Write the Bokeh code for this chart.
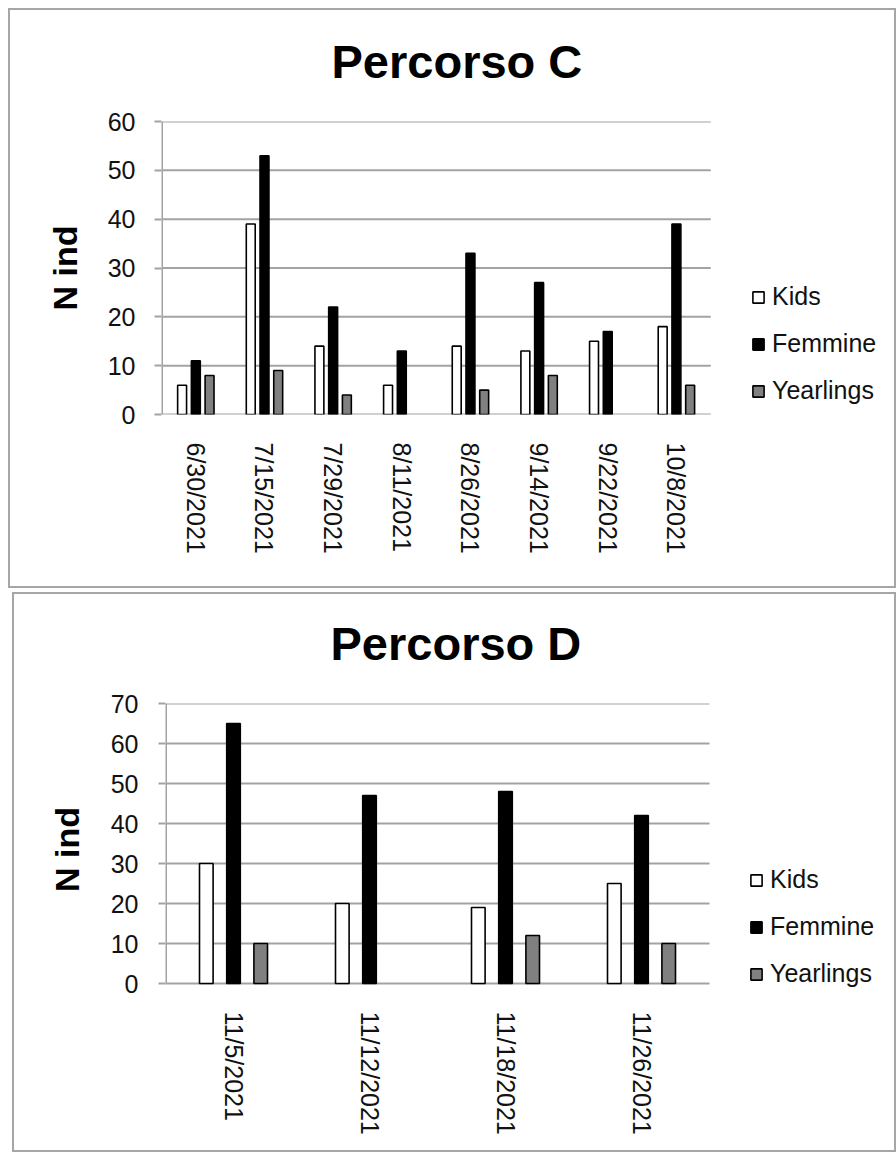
from bokeh.plotting import figure
from bokeh.models import Range1d, ColumnDataSource, Legend, LegendItem, Title
from bokeh.transform import dodge
from bokeh.layouts import column
from bokeh.embed import file_html
from bokeh.resources import INLINE

# ---------------- data ----------------
series_names = ["Kids", "Femmine", "Yearlings"]

dates_c = ["6/30/2021", "7/15/2021", "7/29/2021", "8/11/2021",
           "8/26/2021", "9/14/2021", "9/22/2021", "10/8/2021"]
kids_c = [6, 39, 14, 6, 14, 13, 15, 18]
femmine_c = [11, 53, 22, 13, 33, 27, 17, 39]
yearlings_c = [8, 9, 4, 0, 5, 8, 0, 6]

dates_d = ["11/5/2021", "11/12/2021", "11/18/2021", "11/26/2021"]
kids_d = [30, 20, 19, 25]
femmine_d = [65, 47, 48, 42]
yearlings_d = [10, 0, 12, 10]

FONT = "Liberation Sans"
GRID = "#a3a3a3"
fills = ["#ffffff", "#000000", "#808080"]


def nz(vals):
    return [v if v else float("nan") for v in vals]


def make_chart(title, dates, kids, fem, year, ymax, width, height,
               fl, fr, ft, fb, x_end, y_start, offs, bw, legend_xy, title_offset,
               tick_standoff, label_standoff, xlabel_standoff, styles):
    n = len(dates)
    p = figure(x_range=Range1d(0, x_end), y_range=Range1d(y_start, ymax),
               width=width, height=height, title=None,
               output_backend="svg", toolbar_location=None,
               min_border_left=fl, min_border_right=fr,
               min_border_top=ft, min_border_bottom=fb)
    p.styles = styles
    p.outline_line_color = None
    p.background_fill_color = "white"
    p.border_fill_color = "white"

    # white (invisible) spacer next to the plot area, then the real title above it
    p.add_layout(Title(text="x", text_font_size="12px", text_color="#ffffff",
                       standoff=18), "above")
    p.add_layout(Title(text=title, align="left", offset=title_offset, standoff=0,
                       text_font=FONT, text_font_style="bold",
                       text_font_size="47px", text_color="#000000"), "above")

    # horizontal gridlines and the value axis line, spanning the category area
    ticks = list(range(0, ymax + 1, 10))
    p.segment(x0=[0] * len(ticks), x1=[n] * len(ticks), y0=ticks, y1=ticks,
              line_color=GRID, line_width=2)
    p.segment(x0=[0], x1=[0], y0=[0], y1=[ymax], line_color=GRID, line_width=3)

    idx = list(range(n))
    src = ColumnDataSource(dict(x=idx, kids=nz(kids), fem=nz(fem), year=nz(year)))
    rs = []
    for col, off, fc in zip(["kids", "fem", "year"], offs, fills):
        r = p.vbar(x=dodge("x", 0.5 + off), top=col, width=bw,
                   source=src, fill_color=fc, line_color="#000000", line_width=1.6)
        rs.append(r)

    # axes
    p.xgrid.grid_line_color = None
    p.ygrid.grid_line_color = None
    p.yaxis.ticker = ticks
    p.yaxis.axis_line_color = None
    p.yaxis.major_tick_line_color = GRID
    p.yaxis.major_tick_line_width = 2
    p.yaxis.major_tick_out = 7
    p.yaxis.major_tick_in = 0
    p.yaxis.minor_tick_line_color = None
    p.yaxis.major_label_text_font = FONT
    p.yaxis.major_label_text_font_size = "25px"
    p.yaxis.major_label_text_color = "#111111"
    p.yaxis.major_label_standoff = tick_standoff
    p.yaxis.axis_label = "N ind"
    p.yaxis.axis_label_text_font = FONT
    p.yaxis.axis_label_text_font_style = "bold"
    p.yaxis.axis_label_text_font_size = "34px"
    p.yaxis.axis_label_text_color = "#000000"
    p.yaxis.axis_label_standoff = label_standoff

    centers = [i + 0.5 for i in idx]
    p.xaxis.ticker = centers
    p.xaxis.major_label_overrides = {c: d for c, d in zip(centers, dates)}
    p.xaxis.axis_line_color = None
    p.xaxis.major_tick_line_color = None
    p.xaxis.minor_tick_line_color = None
    p.xaxis.major_label_orientation = "vertical"
    p.xaxis.major_label_text_font = FONT
    p.xaxis.major_label_text_font_size = "25px"
    p.xaxis.major_label_text_color = "#111111"
    p.xaxis.major_label_standoff = xlabel_standoff

    legend = Legend(items=[LegendItem(label=s, renderers=[r]) for s, r in zip(series_names, rs)],
                    location=legend_xy, orientation="vertical",
                    border_line_color=None, background_fill_alpha=0,
                    padding=0, margin=0, spacing=18,
                    glyph_width=14, glyph_height=14, label_height=28,
                    label_standoff=7,
                    label_text_font=FONT, label_text_font_size="25px",
                    label_text_color="#111111")
    p.add_layout(legend, "center")
    return p


# top chart: frame page coords left 160, top 121, bottom 414; categories end at 710
# canvas origin (10,10), canvas 888x580, frame right at page 884
p1 = make_chart("Percorso C", dates_c, kids_c, femmine_c, yearlings_c, 60,
                888, 580, 150, 14, 111, 176, 724 / 68.75, 0,
                (-0.2, 0.0, 0.2), 0.13, (590, 9), 170, 19, 21, 22,
                {"border": "2px solid #a6a6a6", "box-sizing": "border-box",
                 "margin-left": "8px", "margin-top": "8px"})

# bottom chart: frame page coords left 165, top 703; zero line at 983, frame bottom 995
# canvas origin (14,594), canvas 884x560, frame right at page 884
p2 = make_chart("Percorso D", dates_d, kids_d, femmine_d, yearlings_d, 70,
                884, 560, 151, 14, 109, 159, 719 / 136.0, -3,
                (-0.2, 0.0, 0.2), 0.1, (584, 7), 165, 20, 22, 10,
                {"border": "2px solid #a6a6a6", "box-sizing": "border-box",
                 "margin-left": "12px"})

layout = column(p1, p2, spacing=4)
open("out.html", "w").write(file_html(layout, INLINE))
